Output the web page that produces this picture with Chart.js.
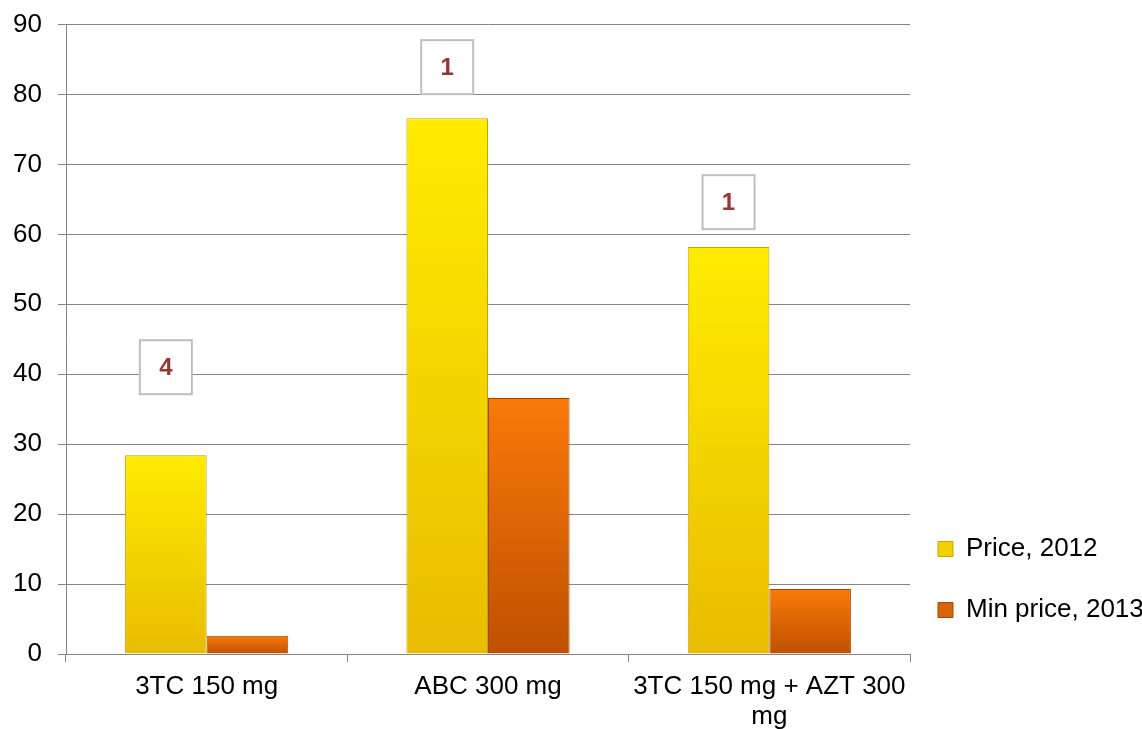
<!DOCTYPE html>
<html>
<head>
<meta charset="utf-8">
<script src="https://cdn.jsdelivr.net/npm/chart.js@4/dist/chart.umd.min.js"></script>
<style>
  html, body { margin: 0; padding: 0; background: #fff; }
  #wrap { width: 1142px; height: 729px; }
</style>
</head>
<body>
<div id="wrap"><canvas id="priceChart"></canvas></div>
<script>
const categories = ['3TC 150 mg', 'ABC 300 mg', ['3TC 150 mg + AZT 300', 'mg']];
const price2012 = [28.4, 76.6, 58.2];
const minPrice2013 = [2.6, 36.6, 9.3];
const noteTexts = ['4', '1', '1'];
const noteLevels = [41.0, 83.9, 64.6];

const gray = '#868686';
const fontName = '"Liberation Sans", Arial, sans-serif';

// vertical gradient per bar, top light -> bottom dark
function barGradient(topColor, bottomColor) {
    return function(context) {
        const chart = context.chart;
        const yScale = chart.scales.y;
        if (!chart.chartArea || !yScale || context.raw === undefined) return topColor;
        const top = yScale.getPixelForValue(context.raw);
        const bottom = yScale.getPixelForValue(0);
        if (!isFinite(top) || !isFinite(bottom) || top === bottom) return topColor;
        const g = chart.ctx.createLinearGradient(0, top, 0, bottom);
        g.addColorStop(0, topColor);
        g.addColorStop(1, bottomColor);
        return g;
    };
}

// boxed numbers above the 2012 bars
const notePlugin = {
    id: 'notes',
    afterLayout(chart) {
        // legend sits a little lower in the original
        chart.legend.top += 4;
        chart.legend.bottom += 4;
    },
    afterDatasetsDraw(chart) {
        const ctx = chart.ctx;
        const meta = chart.getDatasetMeta(0);
        const yScale = chart.scales.y;
        ctx.save();
        noteTexts.forEach((txt, i) => {
            const cx = meta.data[i].x;
            const cy = yScale.getPixelForValue(noteLevels[i]);
            const w = 52, h = 54;
            ctx.fillStyle = '#fff';
            ctx.fillRect(cx - w / 2, cy - h / 2, w, h);
            ctx.strokeStyle = '#bfbfbf';
            ctx.lineWidth = 2;
            ctx.strokeRect(cx - w / 2, cy - h / 2, w, h);
            ctx.fillStyle = '#953735';
            ctx.font = 'bold 24px ' + fontName;
            ctx.textAlign = 'center';
            ctx.textBaseline = 'middle';
            ctx.fillText(txt, cx, cy + 1);
        });
        ctx.restore();
    }
};

const legendColors = ['#F2D000', '#D86408'];

const data = {
    labels: categories,
    datasets: [
        {
            label: 'Price, 2012',
            data: price2012,
            backgroundColor: barGradient('#FFEC00', '#E8BC00'),
            borderColor: '#C9A200',
            borderWidth: 1
        },
        {
            label: 'Min price, 2013',
            data: minPrice2013,
            backgroundColor: barGradient('#F87A08', '#C05000'),
            borderColor: '#A64800',
            borderWidth: 1
        }
    ]
};

const config = {
    type: 'bar',
    data: data,
    options: {
        responsive: false,
        animation: false,
        devicePixelRatio: 1,
        layout: { padding: { left: 0, top: 24.5, right: 0, bottom: 0 } },
        datasets: {
            bar: { categoryPercentage: 0.58, barPercentage: 1.0 }
        },
        scales: {
            x: {
                afterFit(scale) { scale.height = 75; },
                grid: {
                    drawOnChartArea: false,
                    drawTicks: true,
                    tickLength: 8,
                    color: gray,
                    lineWidth: 1
                },
                border: { display: true, color: gray, width: 1 },
                ticks: {
                    color: '#000',
                    padding: 10,
                    maxRotation: 0,
                    autoSkip: false,
                    font: { family: fontName, size: 26, lineHeight: 1.15 }
                }
            },
            y: {
                min: 0,
                max: 90,
                afterFit(scale) {
                    scale.width = 66;
                    scale.paddingTop = 0;
                    scale.paddingBottom = 0;
                },
                grid: {
                    color: gray,
                    lineWidth: 1,
                    drawTicks: true,
                    tickLength: 8
                },
                border: { display: true, color: gray, width: 1 },
                ticks: {
                    stepSize: 10,
                    color: '#000',
                    padding: 16,
                    font: { family: fontName, size: 26 }
                }
            }
        },
        plugins: {
            tooltip: { enabled: false },
            legend: {
                position: 'right',
                align: 'end',
                fullSize: false,
                maxWidth: 232,
                labels: {
                    color: '#000',
                    boxWidth: 15,
                    boxHeight: 15,
                    padding: 28,
                    font: { family: fontName, size: 26, lineHeight: 33 / 26 },
                    generateLabels(chart) {
                        const items = Chart.defaults.plugins.legend.labels.generateLabels(chart);
                        items.forEach((it, i) => {
                            it.text = [it.text];
                            it.fillStyle = legendColors[i];
                            it.lineWidth = 1;
                        });
                        return items;
                    }
                }
            }
        }
    },
    plugins: [notePlugin]
};

const canvas = document.getElementById('priceChart');
canvas.width = 1142;
canvas.height = 729;
const chart = new Chart(canvas.getContext('2d'), config);
</script>
</body>
</html>
